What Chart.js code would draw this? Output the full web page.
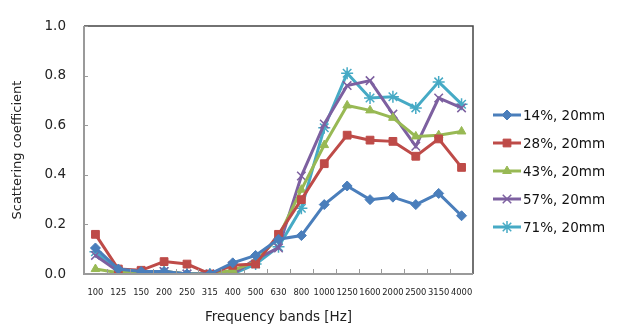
<!DOCTYPE html>
<html>
<head>
<meta charset="utf-8">
<script src="https://cdn.jsdelivr.net/npm/chart.js@4"></script>
<style>
  html, body { margin: 0; padding: 0; background: #fff; }
  #wrap { width: 621px; height: 329px; }
</style>
</head>
<body>
<div id="wrap"><canvas id="scatterChart" width="621" height="329"></canvas></div>
<script>
// frequency bands and scattering coefficients
const bands = ['100', '125', '150', '200', '250', '315', '400', '500', '630', '800',
               '1000', '1250', '1600', '2000', '2500', '3150', '4000'];
const seriesNames = ['14%, 20mm', '28%, 20mm', '43%, 20mm', '57%, 20mm', '71%, 20mm'];
const s14 = [0.105, 0.02, 0.01, 0.01, 0.0, 0.0, 0.045, 0.075, 0.14, 0.155, 0.28, 0.355, 0.30, 0.31, 0.28, 0.325, 0.235];
const s28 = [0.16, 0.02, 0.015, 0.05, 0.04, 0.0, 0.035, 0.04, 0.16, 0.30, 0.445, 0.56, 0.54, 0.535, 0.475, 0.545, 0.43];
const s43 = [0.02, 0.005, 0.01, 0.01, 0.0, 0.0, 0.015, 0.05, 0.15, 0.34, 0.52, 0.68, 0.66, 0.63, 0.555, 0.56, 0.575];
const s57 = [0.075, 0.01, 0.01, 0.01, 0.0, 0.0, 0.0, 0.06, 0.105, 0.395, 0.605, 0.76, 0.78, 0.645, 0.515, 0.71, 0.67];
const s71 = [0.09, 0.01, 0.0, 0.01, 0.0, 0.0, 0.0, 0.04, 0.11, 0.265, 0.59, 0.81, 0.71, 0.715, 0.67, 0.775, 0.685];
const yTicks = [0, 0.2, 0.4, 0.6, 0.8, 1.0];

const colors = ['#4A7EBB', '#BE4B48', '#98B954', '#7D60A0', '#46AAC5'];
const styles = ['rectRot', 'rect', 'triangle', 'crossRot', 'star'];
const radii = [5, 5.5, 5, 6, 6];
const values = [s14, s28, s43, s57, s71];

const datasets = values.map((v, i) => ({
    label: seriesNames[i],
    data: v,
    borderColor: colors[i],
    backgroundColor: colors[i],
    borderWidth: 3,
    pointStyle: styles[i],
    pointRadius: radii[i],
    pointBorderWidth: (i >= 3) ? 1.5 : 1,
    pointBackgroundColor: colors[i],
    pointBorderColor: colors[i],
    tension: 0
}));

// frame, inner tick marks and the line+marker legend, Excel style
const framePlugin = {
    id: 'frame',
    afterDraw(chart) {
        const ctx = chart.ctx;
        const a = chart.chartArea;
        const y = chart.scales.y;
        ctx.save();
        ctx.lineWidth = 1.5;
        ctx.strokeStyle = '#444';
        ctx.beginPath();
        ctx.moveTo(a.left, a.top); ctx.lineTo(a.right, a.top); ctx.lineTo(a.right, a.bottom);
        ctx.stroke();
        ctx.lineWidth = 2;
        ctx.strokeStyle = '#9a9a9a';
        ctx.beginPath();
        ctx.moveTo(a.left, a.top); ctx.lineTo(a.left, a.bottom); ctx.lineTo(a.right, a.bottom);
        ctx.stroke();
        ctx.lineWidth = 1;
        ctx.beginPath();
        yTicks.forEach(t => {
            const py = Math.round(y.getPixelForValue(t)) + 0.5;
            ctx.moveTo(a.left, py); ctx.lineTo(a.left + 4, py);
        });
        const step = (a.right - a.left) / bands.length;
        for (let i = 1; i < bands.length; i++) {
            const px = Math.round(a.left + i * step) + 0.5;
            ctx.moveTo(px, a.bottom); ctx.lineTo(px, a.bottom - 5);
        }
        ctx.stroke();

        // legend
        const lx = 493, ly0 = 115, gap = 28;
        chart.data.datasets.forEach((ds, i) => {
            const ly = ly0 + i * gap;
            ctx.strokeStyle = ds.borderColor;
            ctx.lineWidth = 3;
            ctx.beginPath();
            ctx.moveTo(lx, ly); ctx.lineTo(lx + 28, ly);
            ctx.stroke();
            ctx.fillStyle = ds.backgroundColor;
            ctx.lineWidth = ds.pointBorderWidth;
            Chart.helpers.drawPoint(ctx, {pointStyle: ds.pointStyle, radius: ds.pointRadius, rotation: 0, borderWidth: ds.pointBorderWidth}, lx + 14, ly);
            ctx.fillStyle = '#111';
            ctx.font = '13.5px "DejaVu Sans"';
            ctx.textBaseline = 'middle';
            ctx.textAlign = 'left';
            ctx.fillText(ds.label, lx + 30, ly + 1);
        });
        ctx.restore();
    }
};

new Chart(document.getElementById('scatterChart'), {
    type: 'line',
    data: { labels: bands, datasets: datasets },
    options: {
        responsive: false,
        animation: false,
        layout: { padding: { top: 15, right: 148, left: 0, bottom: 0 } },
        plugins: { legend: { display: false }, tooltip: { enabled: false } },
        scales: {
            x: {
                offset: true,
                grid: { display: false, drawTicks: false },
                border: { display: false },
                ticks: {
                    autoSkip: false, maxRotation: 0, minRotation: 0, padding: 14,
                    color: '#222', font: { family: 'DejaVu Sans', size: 8.4 }
                },
                title: {
                    display: true, text: 'Frequency bands [Hz]', color: '#222',
                    font: { family: 'DejaVu Sans', size: 13.5 }, padding: { top: 0, bottom: 3 }
                },
                afterFit(scale) { scale.height = 55; }
            },
            y: {
                min: 0, max: 1,
                afterBuildTicks(scale) { scale.ticks = yTicks.map(v => ({ value: v })); },
                grid: { display: false, drawTicks: false },
                border: { display: false },
                ticks: {
                    padding: 18, color: '#222',
                    font: { family: 'DejaVu Sans', size: 13.5 },
                    callback: v => v.toFixed(1)
                },
                title: {
                    display: true, text: 'Scattering coefficient', color: '#222',
                    font: { family: 'DejaVu Sans', size: 13 }, padding: { top: 10, bottom: 0 }
                },
                afterFit(scale) { scale.width = 84; }
            }
        }
    },
    plugins: [framePlugin]
});
</script>
</body>
</html>
